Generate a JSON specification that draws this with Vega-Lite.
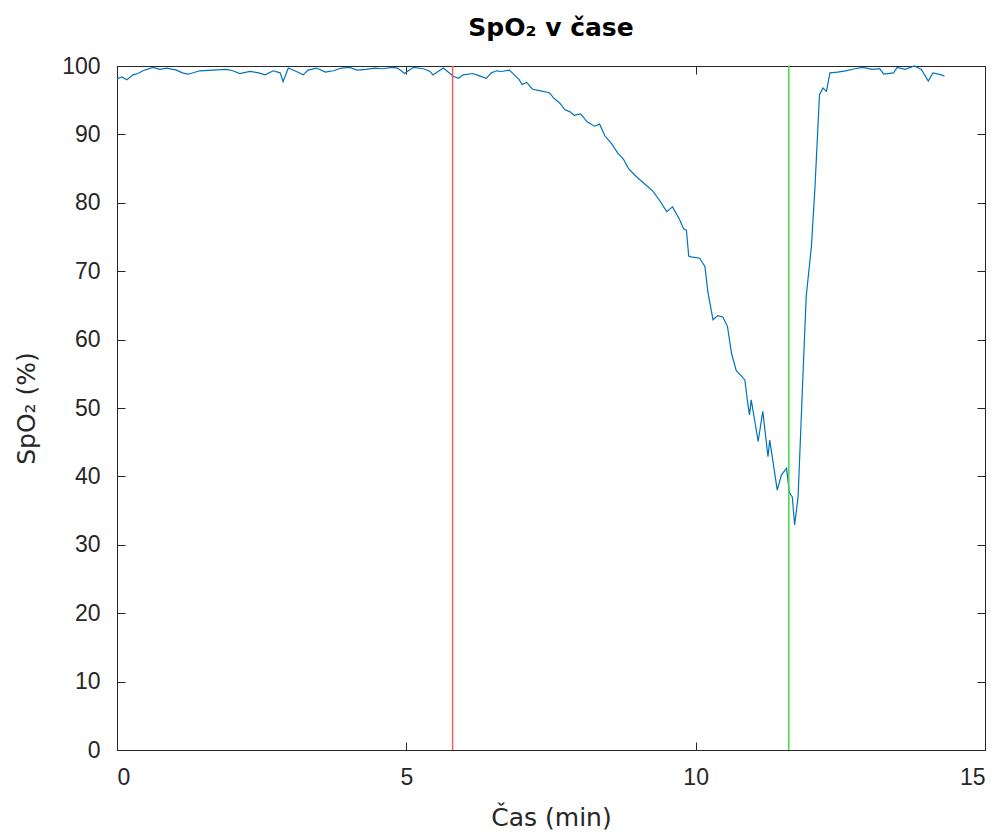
{
  "$schema": "https://vega.github.io/schema/vega-lite/v6.json",
  "width": 868,
  "height": 684,
  "autosize": {"type": "none"},
  "padding": {"left": 117, "top": 66, "right": 18, "bottom": 86},
  "background": "white",
  "title": {"text": "SpO₂ v čase", "font": "DejaVu Sans", "fontSize": 25, "fontWeight": "bold", "color": "#000000", "offset": 14, "anchor": "middle"},
  "config": {
    "view": {"stroke": "#262626", "strokeWidth": 1},
    "axis": {"font": "Liberation Sans", "labelFont": "Liberation Sans", "titleFont": "DejaVu Sans", "labelFontSize": 23, "titleFontSize": 25, "titleFontWeight": "normal", "labelColor": "#262626", "titleColor": "#262626", "domainColor": "#262626", "tickColor": "#262626", "grid": false, "tickSize": -8}
  },
  "datasets": {
    "spo2": [
      {"t": 0.0, "v": 98.1}, {"t": 0.08, "v": 98.4}, {"t": 0.17, "v": 98.0}, {"t": 0.28, "v": 98.7}, {"t": 0.36, "v": 98.9}, {"t": 0.45, "v": 99.3}, {"t": 0.62, "v": 99.8},
      {"t": 0.74, "v": 99.5}, {"t": 0.86, "v": 99.7}, {"t": 1.03, "v": 99.4}, {"t": 1.13, "v": 99.0}, {"t": 1.23, "v": 98.8}, {"t": 1.43, "v": 99.3}, {"t": 1.65, "v": 99.4},
      {"t": 1.89, "v": 99.5}, {"t": 2.0, "v": 99.3}, {"t": 2.12, "v": 98.9}, {"t": 2.3, "v": 99.2}, {"t": 2.45, "v": 99.0}, {"t": 2.56, "v": 98.7}, {"t": 2.7, "v": 99.3},
      {"t": 2.82, "v": 99.0}, {"t": 2.87, "v": 97.7}, {"t": 2.96, "v": 99.7}, {"t": 3.1, "v": 99.2}, {"t": 3.22, "v": 98.7},
      {"t": 3.3, "v": 99.4}, {"t": 3.45, "v": 99.7}, {"t": 3.6, "v": 99.1}, {"t": 3.74, "v": 99.3}, {"t": 3.88, "v": 99.7}, {"t": 4.02, "v": 99.8}, {"t": 4.15, "v": 99.4}, {"t": 4.3, "v": 99.5},
      {"t": 4.45, "v": 99.7}, {"t": 4.6, "v": 99.6}, {"t": 4.75, "v": 99.8}, {"t": 4.85, "v": 99.7}, {"t": 4.97, "v": 98.9}, {"t": 5.12, "v": 99.8}, {"t": 5.3, "v": 99.6}, {"t": 5.41, "v": 99.2},
      {"t": 5.46, "v": 98.7}, {"t": 5.64, "v": 99.7}, {"t": 5.81, "v": 98.5}, {"t": 5.9, "v": 98.2}, {"t": 5.98, "v": 98.7}, {"t": 6.15, "v": 98.9},
      {"t": 6.25, "v": 98.6}, {"t": 6.38, "v": 98.2}, {"t": 6.47, "v": 99.0}, {"t": 6.56, "v": 99.3}, {"t": 6.64, "v": 99.2}, {"t": 6.78, "v": 99.4},
      {"t": 6.88, "v": 98.6}, {"t": 6.95, "v": 98.0}, {"t": 7.0, "v": 97.3}, {"t": 7.08, "v": 97.6}, {"t": 7.18, "v": 96.6}, {"t": 7.3, "v": 96.4}, {"t": 7.47, "v": 96.1}, {"t": 7.56, "v": 95.2}, {"t": 7.65, "v": 94.6},
      {"t": 7.74, "v": 93.6}, {"t": 7.83, "v": 93.3}, {"t": 7.9, "v": 92.8}, {"t": 8.01, "v": 93.0}, {"t": 8.13, "v": 91.8}, {"t": 8.25, "v": 91.2}, {"t": 8.34, "v": 91.5}, {"t": 8.43, "v": 89.8},
      {"t": 8.55, "v": 88.6}, {"t": 8.66, "v": 87.2}, {"t": 8.75, "v": 86.4}, {"t": 8.84, "v": 85.0}, {"t": 8.99, "v": 83.7}, {"t": 9.1, "v": 82.9}, {"t": 9.26, "v": 81.7}, {"t": 9.38, "v": 80.3}, {"t": 9.5, "v": 78.7},
      {"t": 9.6, "v": 79.4}, {"t": 9.72, "v": 77.6}, {"t": 9.79, "v": 76.2}, {"t": 9.84, "v": 76.0}, {"t": 9.88, "v": 72.2},
      {"t": 9.92, "v": 72.1}, {"t": 10.07, "v": 71.9}, {"t": 10.16, "v": 70.7}, {"t": 10.21, "v": 67.0}, {"t": 10.3, "v": 62.9},
      {"t": 10.38, "v": 63.5}, {"t": 10.47, "v": 63.3}, {"t": 10.55, "v": 61.9}, {"t": 10.62, "v": 58.0}, {"t": 10.7, "v": 55.5},
      {"t": 10.85, "v": 54.1}, {"t": 10.9, "v": 50.7}, {"t": 10.93, "v": 49.0}, {"t": 10.96, "v": 51.2}, {"t": 11.08, "v": 45.1},
      {"t": 11.16, "v": 49.5}, {"t": 11.25, "v": 42.9}, {"t": 11.28, "v": 45.3}, {"t": 11.41, "v": 38.0}, {"t": 11.48, "v": 40.2},
      {"t": 11.57, "v": 41.2}, {"t": 11.62, "v": 37.6}, {"t": 11.67, "v": 37.0}, {"t": 11.71, "v": 32.9}, {"t": 11.77, "v": 37.0},
      {"t": 11.86, "v": 56.0}, {"t": 11.91, "v": 66.3}, {"t": 12.0, "v": 73.6}, {"t": 12.06, "v": 82.0}, {"t": 12.14, "v": 95.8},
      {"t": 12.2, "v": 96.8}, {"t": 12.26, "v": 96.3}, {"t": 12.32, "v": 99.0}, {"t": 12.45, "v": 99.1}, {"t": 12.59, "v": 99.3}, {"t": 12.75, "v": 99.6}, {"t": 12.89, "v": 99.8},
      {"t": 13.05, "v": 99.5}, {"t": 13.18, "v": 99.6}, {"t": 13.25, "v": 98.8}, {"t": 13.42, "v": 99.0}, {"t": 13.48, "v": 99.8}, {"t": 13.62, "v": 99.5}, {"t": 13.78, "v": 100.0},
      {"t": 13.9, "v": 99.5}, {"t": 14.02, "v": 97.8}, {"t": 14.1, "v": 99.0}, {"t": 14.25, "v": 98.7}, {"t": 14.3, "v": 98.5}
    ]
  },
  "layer": [
    {
      "data": {"name": "spo2"},
      "mark": {"type": "line", "color": "#0072BD", "strokeWidth": 1.2},
      "encoding": {
        "x": {"field": "t", "type": "quantitative", "scale": {"domain": [0, 15], "nice": false}, "axis": {"title": "Čas (min)", "values": [0, 5, 10, 15], "labelPadding": 24, "titlePadding": 16, "format": "d"}},
        "y": {"field": "v", "type": "quantitative", "scale": {"domain": [0, 100], "nice": false}, "axis": {"title": "SpO₂ (%)", "values": [0, 10, 20, 30, 40, 50, 60, 70, 80, 90, 100], "labelPadding": 25, "titlePadding": 22}}
      }
    },
    {
      "data": {"values": [{"t": 5.8}]},
      "mark": {"type": "rule", "color": "#ff5a5a", "strokeWidth": 1.5},
      "encoding": {
        "x": {"field": "t", "type": "quantitative", "axis": {"orient": "top", "title": null, "labels": false, "values": [0, 5, 10, 15], "domain": false}}
      }
    },
    {
      "data": {"values": [{"t": 11.61}]},
      "mark": {"type": "rule", "color": "#3ddc3d", "strokeWidth": 1.5},
      "encoding": {
        "x": {"field": "t", "type": "quantitative", "axis": null}
      }
    },
    {
      "data": {"values": [{"v": 0}]},
      "mark": {"type": "tick", "opacity": 0},
      "encoding": {
        "y": {"field": "v", "type": "quantitative", "axis": {"orient": "right", "title": null, "labels": false, "values": [0, 10, 20, 30, 40, 50, 60, 70, 80, 90, 100], "domain": false}}
      }
    }
  ],
  "resolve": {"axis": {"x": "independent", "y": "independent"}}
}
